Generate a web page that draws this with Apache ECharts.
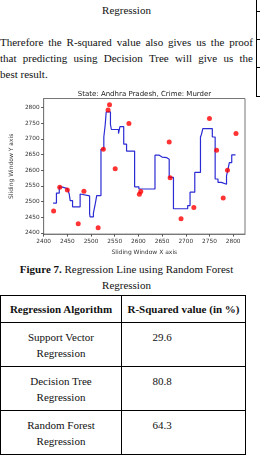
<!DOCTYPE html>
<html>
<head>
<meta charset="utf-8">
<script src="https://cdn.jsdelivr.net/npm/echarts@6.0.0/dist/echarts.min.js"></script>
<style>
  html, body { margin: 0; padding: 0; background: #fff; }
  body { width: 260px; height: 457px; overflow: hidden; position: relative;
         font-family: "Liberation Serif", "DejaVu Serif", serif; color: #111; }
  .blk { position: absolute; left: 0; width: 253px; font-size: 11px; }
  #heading { top: 3px; line-height: 14px; text-align: center; }
  #para { top: 35px; line-height: 15.8px; }
  #para .j { text-align: justify; text-align-last: justify; }
  #chart { position: absolute; left: 0; top: 84px; width: 260px; height: 176px; }
  #caption { top: 262px; line-height: 15.5px; text-align: center; }
  /* bit of the neighbouring column's table */
  #edge { position: absolute; left: 256px; top: 0; width: 10px; height: 96px;
          border-left: 1px solid #000; border-bottom: 1px solid #000; }
  #edge div { position: absolute; left: 0; width: 10px; border-top: 1px solid #000; }
  table { position: absolute; left: 0; top: 295px; width: 246px; border-collapse: collapse;
          font-size: 11px; line-height: 16px; table-layout: fixed; }
  td, th { border: 1px solid #000; padding: 0; }
  th { font-weight: bold; text-align: center; vertical-align: middle; }
  tr.head { height: 27px; }
  tr.row { height: 44px; }
  td { text-align: center; vertical-align: middle; }
  td.val { vertical-align: top; padding: 6px 43px 0 0; }
</style>
</head>
<body>
<div id="heading" class="blk">Regression</div>
<div id="para" class="blk">
  <div class="j">Therefore the R-squared value also gives us the proof</div>
  <div class="j">that predicting using Decision Tree will give us the</div>
  <div>best result.</div>
</div>
<div id="edge"><div style="top:11px"></div><div style="top:39px"></div><div style="top:67px"></div></div>
<div id="chart"></div>
<div id="caption" class="blk"><b>Figure 7.</b> Regression Line using Random Forest Regression</div>
<table>
  <colgroup><col style="width:121px"><col></colgroup>
  <tr class="head"><th>Regression Algorithm</th><th>R-Squared value (in %)</th></tr>
  <tr class="row"><td>Support Vector<br>Regression</td><td class="val">29.6</td></tr>
  <tr class="row"><td>Decision Tree<br>Regression</td><td class="val">80.8</td></tr>
  <tr class="row"><td>Random Forest<br>Regression</td><td class="val">64.3</td></tr>
</table>

<script>
// axis ticks
const xTicks = [2400, 2450, 2500, 2550, 2600, 2650, 2700, 2750, 2800];
const yTicks = [2400, 2450, 2500, 2550, 2600, 2650, 2700, 2750, 2800];

// red dots (actual values)
const pointX = [2421, 2434, 2450, 2473, 2485, 2515, 2526, 2536, 2539, 2551, 2580,
                2602, 2605, 2665, 2667, 2690, 2717, 2750, 2765, 2779, 2788, 2806];
const pointY = [2470, 2546, 2537, 2429, 2533, 2416, 2667, 2792, 2809, 2605, 2749,
                2523, 2532, 2690, 2576, 2445, 2481, 2765, 2664, 2511, 2600, 2717];

// random forest prediction, x where each level starts + level
const stepX = [2420, 2427, 2433, 2440, 2450, 2454, 2456, 2461, 2477, 2480, 2497, 2498,
               2505, 2509, 2512, 2521, 2527, 2530, 2532, 2541, 2543, 2558, 2561, 2569,
               2575, 2592, 2601, 2635, 2644, 2650, 2660, 2665, 2674, 2704, 2709, 2719,
               2731, 2733, 2736, 2756, 2762, 2768, 2775, 2786, 2789, 2792, 2797, 2805];
const stepY = [2495, 2527, 2546, 2541, 2535, 2524, 2503, 2483, 2524, 2518, 2461, 2451,
               2463, 2493, 2519, 2667, 2706, 2746, 2786, 2746, 2730, 2717, 2739, 2683,
               2661, 2547, 2540, 2648, 2642, 2640, 2635, 2577, 2477, 2487, 2530, 2593,
               2706, 2714, 2733, 2706, 2572, 2561, 2555, 2582, 2603, 2624, 2649, 2649];

const chart = echarts.init(document.getElementById('chart'));
const tickFont = { fontSize: 5.8, color: '#333', fontFamily: 'DejaVu Sans', formatter: v => String(v) };

chart.setOption({
  animation: false,
  title: {
    text: 'State: Andhra Pradesh, Crime: Murder',
    left: 139.5, top: 2, textAlign: 'center',
    textStyle: { fontSize: 7, fontWeight: 'normal', color: '#222', fontFamily: 'DejaVu Sans' }
  },
  grid: { left: 34, right: 15, top: 14.5, bottom: 24.5, show: true, borderColor: '#777', borderWidth: 1 },
  xAxis: {
    type: 'value', min: 2400, max: 2825,
    name: 'Sliding Window X axis', nameLocation: 'middle', nameGap: 12,
    nameTextStyle: { fontSize: 6, color: '#333', fontFamily: 'DejaVu Sans' },
    axisLine: { show: true, lineStyle: { color: '#777' } },
    axisTick: { show: true, length: 2.5, customValues: xTicks, lineStyle: { color: '#555' } },
    axisLabel: Object.assign({ customValues: xTicks, margin: 4 }, tickFont),
    splitLine: { show: false }
  },
  yAxis: {
    type: 'value', min: 2396, max: 2829,
    name: 'Sliding Window Y axis', nameLocation: 'middle', nameGap: 24,
    nameTextStyle: { fontSize: 6, color: '#333', fontFamily: 'DejaVu Sans' },
    axisLine: { show: true, lineStyle: { color: '#777' } },
    axisTick: { show: true, length: 2.5, customValues: yTicks, lineStyle: { color: '#555' } },
    axisLabel: Object.assign({ customValues: yTicks, margin: 4 }, tickFont),
    splitLine: { show: false }
  },
  series: [
    {
      type: 'line', step: 'end', showSymbol: false,
      data: stepX.map((x, i) => [x, stepY[i]]),
      lineStyle: { color: '#2b2bd4', width: 1.2 },
      z: 2
    },
    {
      type: 'scatter', symbolSize: 5,
      data: pointX.map((x, i) => [x, pointY[i]]),
      itemStyle: { color: '#ff0000' },
      z: 3
    }
  ]
});
</script>
</body>
</html>
